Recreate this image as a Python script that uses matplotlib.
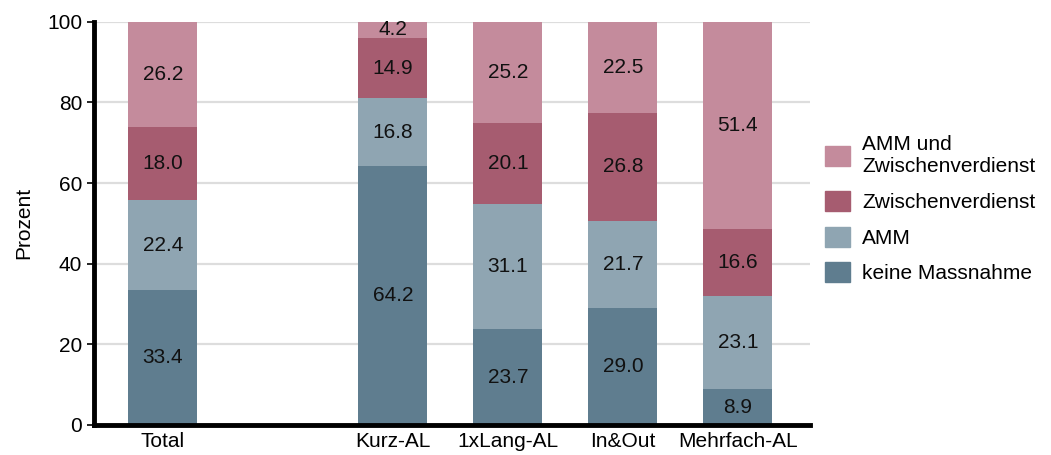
import matplotlib
matplotlib.use("Agg")
import matplotlib.pyplot as plt
from matplotlib.patches import Patch

plt.rcParams["font.family"] = ["Liberation Sans", "DejaVu Sans"]

groups = ["Total", "Kurz-AL", "1xLang-AL", "In&Out", "Mehrfach-AL"]
positions = [0, 2, 3, 4, 5]

keine = [33.4, 64.2, 23.7, 29.0, 8.9]
amm = [22.4, 16.8, 31.1, 21.7, 23.1]
zwv = [18.0, 14.9, 20.1, 26.8, 16.6]
amm_zwv = [26.2, 4.2, 25.2, 22.5, 51.4]

series = [
    ("keine Massnahme", keine, "#5f7d8f"),
    ("AMM", amm, "#8fa5b2"),
    ("Zwischenverdienst", zwv, "#a65c70"),
    ("AMM und\nZwischenverdienst", amm_zwv, "#c48b9c"),
]

fs = 15

fig = plt.figure(figsize=(10.51, 4.55), dpi=100)
ax = fig.add_axes([0.0894, 0.066, 0.6816, 0.886])

bottom = [0.0] * len(groups)
for name, vals, color in series:
    ax.bar(positions, vals, width=0.6, bottom=bottom, color=color, zorder=2)
    for x, b, v in zip(positions, bottom, vals):
        ax.text(x, b + v / 2, f"{v:.1f}", ha="center", va="center",
                fontsize=fs, color="#111111", zorder=3)
    bottom = [b + v for b, v in zip(bottom, vals)]

ax.set_xlim(-0.6, 5.63)
ax.set_ylim(0, 100)
ax.set_yticks([0, 20, 40, 60, 80, 100])
ax.set_xticks(positions)
ax.set_xticklabels(groups, fontsize=fs)
ax.tick_params(axis="y", labelsize=fs, length=5, width=1.2)
ax.tick_params(axis="x", length=0, pad=5)
ax.set_ylabel("Prozent", fontsize=fs, labelpad=10)

ax.grid(axis="y", color="#dddddd", linewidth=1.6, zorder=0)
ax.set_axisbelow(True)
for s in ["top", "right"]:
    ax.spines[s].set_visible(False)
for s in ["left", "bottom"]:
    ax.spines[s].set_linewidth(3.5)
    ax.spines[s].set_zorder(4)

handles = [Patch(color=c, label=n) for n, _, c in reversed(series)]
ax.legend(handles=handles, loc="center left", bbox_to_anchor=(0.995, 0.535),
          frameon=False, fontsize=fs, handlelength=1.2, handleheight=1.1,
          handletextpad=0.55, labelspacing=0.7)

fig.savefig("out.png", dpi=100)
